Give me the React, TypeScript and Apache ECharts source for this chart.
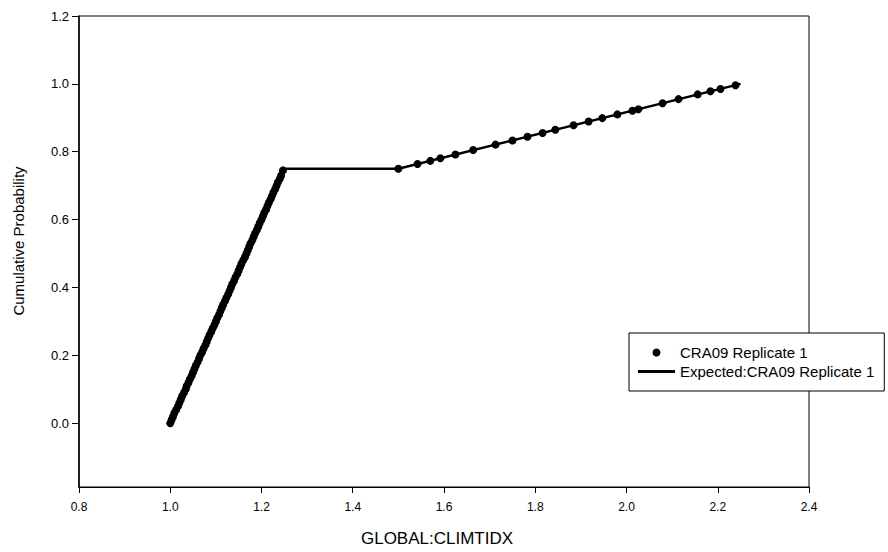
import React, { useEffect, useRef } from "react";
import * as echarts from "echarts";

// Observed points (sorted sample values vs cumulative probability)
const pointX: number[] = [
  1.000, 1.003, 1.006, 1.009, 1.013, 1.017, 1.020, 1.023, 1.026, 1.030,
  1.034, 1.036, 1.040, 1.043, 1.047, 1.050, 1.053, 1.056, 1.060, 1.063,
  1.066, 1.070, 1.073, 1.077, 1.080, 1.083, 1.086, 1.090, 1.093, 1.097,
  1.100, 1.103, 1.107, 1.110, 1.113, 1.116, 1.120, 1.123, 1.127, 1.130,
  1.133, 1.136, 1.140, 1.143, 1.147, 1.150, 1.153, 1.156, 1.160, 1.164,
  1.167, 1.170, 1.173, 1.176, 1.180, 1.183, 1.186, 1.190, 1.193, 1.196,
  1.200, 1.203, 1.206, 1.210, 1.213, 1.216, 1.220, 1.223, 1.226, 1.230,
  1.233, 1.236, 1.240, 1.243, 1.247,
  1.500, 1.542, 1.570, 1.592, 1.625, 1.664, 1.713, 1.750, 1.783, 1.816,
  1.844, 1.884, 1.917, 1.947, 1.980, 2.013, 2.026, 2.079, 2.114, 2.156,
  2.184, 2.206, 2.239,
];
const pointY: number[] = [
  0.00, 0.01, 0.02, 0.03, 0.04, 0.05, 0.06, 0.07, 0.08, 0.09,
  0.10, 0.11, 0.12, 0.13, 0.14, 0.15, 0.16, 0.17, 0.18, 0.19,
  0.20, 0.21, 0.22, 0.23, 0.24, 0.25, 0.26, 0.27, 0.28, 0.29,
  0.30, 0.31, 0.32, 0.33, 0.34, 0.35, 0.36, 0.37, 0.38, 0.39,
  0.40, 0.41, 0.42, 0.43, 0.44, 0.45, 0.46, 0.47, 0.48, 0.49,
  0.50, 0.51, 0.52, 0.53, 0.54, 0.55, 0.56, 0.57, 0.58, 0.59,
  0.60, 0.61, 0.62, 0.63, 0.64, 0.65, 0.66, 0.67, 0.68, 0.69,
  0.70, 0.71, 0.72, 0.73, 0.745,
  0.750, 0.764, 0.773, 0.781, 0.792, 0.805, 0.821, 0.833, 0.844, 0.855,
  0.865, 0.878, 0.889, 0.899, 0.910, 0.921, 0.925, 0.943, 0.955, 0.969,
  0.978, 0.985, 0.996,
];

// Expected cumulative distribution
const expectedX: number[] = [1.0, 1.25, 1.5, 2.25];
const expectedY: number[] = [0.0, 0.75, 0.75, 1.0];

const xTicks: number[] = [0.8, 1.0, 1.2, 1.4, 1.6, 1.8, 2.0, 2.2, 2.4];
const yTicks: number[] = [0.0, 0.2, 0.4, 0.6, 0.8, 1.0, 1.2];

const seriesNames = ["CRA09 Replicate 1", "Expected:CRA09 Replicate 1"];
const xTitle = "GLOBAL:CLIMTIDX";
const yTitle = "Cumulative Probability";

const FONT = "Liberation Sans, Arial, sans-serif";

export default function App() {
  const ref = useRef<HTMLDivElement>(null);

  useEffect(() => {
    if (!ref.current) return;
    const chart = echarts.init(ref.current, undefined, { renderer: "svg" });

    const scatterData = pointX.map((x, i) => [x, pointY[i]]);
    const lineData = expectedX.map((x, i) => [x, expectedY[i]]);

    chart.setOption({
      animation: false,
      backgroundColor: "#fff",
      textStyle: { fontFamily: FONT },
      grid: {
        left: 79,
        right: 79,
        top: 16,
        bottom: 65,
        show: true,
        borderColor: "#000",
        borderWidth: 1,
        backgroundColor: "transparent",
      },
      xAxis: {
        type: "value",
        min: 0.8,
        max: 2.4,
        interval: 0.2,
        axisLine: { show: true, onZero: false, lineStyle: { color: "#000", width: 1 } },
        axisTick: {
          show: true,
          inside: false,
          length: 6,
          lineStyle: { color: "#000" },
          customValues: xTicks,
        },
        axisLabel: {
          color: "#000",
          fontSize: 12,
          fontFamily: FONT,
          margin: 14,
          customValues: xTicks,
          formatter: (v: number) => v.toFixed(1),
        },
        splitLine: { show: false },
      },
      yAxis: {
        type: "value",
        min: -0.188,
        max: 1.2,
        axisLine: { show: true, onZero: false, lineStyle: { color: "#000", width: 1.5 } },
        axisTick: {
          show: true,
          inside: false,
          length: 7,
          lineStyle: { color: "#000" },
          customValues: yTicks,
        },
        axisLabel: {
          color: "#000",
          fontSize: 13,
          fontFamily: FONT,
          margin: 10,
          customValues: yTicks,
          formatter: (v: number) => v.toFixed(1),
        },
        splitLine: { show: false },
      },
      legend: {
        orient: "vertical",
        left: 629,
        top: 333,
        backgroundColor: "#fff",
        borderColor: "#000",
        borderWidth: 1,
        borderRadius: 0,
        padding: [12, 10, 12, 9],
        itemWidth: 37,
        itemHeight: 8,
        itemGap: 4,
        textStyle: { color: "#000", fontSize: 15, fontFamily: FONT },
        data: [
          { name: seriesNames[0], icon: "circle", itemStyle: { color: "#000", opacity: 1 } },
          { name: seriesNames[1], icon: "path://M0,0 L37,0 L37,3 L0,3 Z", itemStyle: { color: "#000" } },
        ],
        z: 10,
      },
      graphic: [
        {
          type: "text",
          x: 18,
          y: 241,
          rotation: Math.PI / 2,
          style: {
            text: yTitle,
            fill: "#000",
            font: `15px ${FONT}`,
            align: "center",
            verticalAlign: "middle",
          },
        },
        {
          type: "text",
          x: 437,
          y: 538,
          style: {
            text: xTitle,
            fill: "#000",
            font: `17px ${FONT}`,
            align: "center",
            verticalAlign: "middle",
          },
        },
      ],
      series: [
        {
          name: seriesNames[1],
          type: "line",
          data: lineData,
          showSymbol: false,
          symbol: "none",
          lineStyle: { color: "#000", width: 2.5 },
          itemStyle: { color: "#000" },
          z: 2,
        },
        {
          name: seriesNames[0],
          type: "scatter",
          data: scatterData,
          symbol: "circle",
          symbolSize: 8,
          itemStyle: { color: "#000", opacity: 1 },
          z: 3,
        },
      ],
    });

    return () => chart.dispose();
  }, []);

  return (
    <div
      ref={ref}
      style={{ position: "fixed", left: 0, top: 0, width: 888, height: 552 }}
    />
  );
}
